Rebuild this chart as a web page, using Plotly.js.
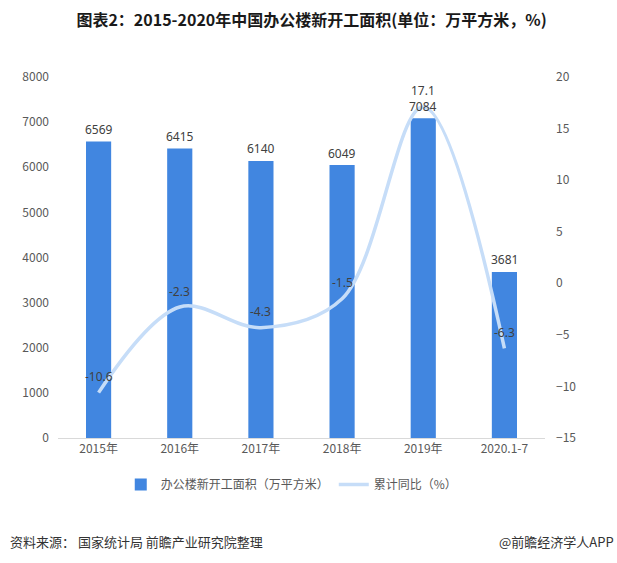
<!DOCTYPE html>
<html>
<head>
<meta charset="utf-8">
<script src="https://cdn.plot.ly/plotly-3.0.1.min.js"></script>
<style>
html,body{margin:0;padding:0;background:#fff;}
#chart{width:617px;height:563px;}
</style>
</head>
<body>
<div id="chart"></div>
<script>
const categories = ["2015年", "2016年", "2017年", "2018年", "2019年", "2020.1-7"];
const areaValues = [6569, 6415, 6140, 6049, 7084, 3681];
const yoyValues = [-10.6, -2.3, -4.3, -1.5, 17.1, -6.3];
const leftTicks = [0, 1000, 2000, 3000, 4000, 5000, 6000, 7000, 8000];
const rightTicks = [-15, -10, -5, 0, 5, 10, 15, 20];

const FONT = '"Noto Sans CJK SC", "Microsoft YaHei", sans-serif';
const NUMFONT = '"Noto Sans", "Open Sans", sans-serif';

const barTrace = {
  type: 'bar',
  name: '办公楼新开工面积（万平方米）',
  x: categories,
  y: areaValues,
  marker: {color: '#4186e0'},
  width: 0.31,
  yaxis: 'y'
};

const lineTrace = {
  type: 'scatter',
  mode: 'lines',
  name: '累计同比（%）',
  x: categories,
  y: yoyValues,
  cliponaxis: false,
  line: {color: '#c6ddf8', width: 3.5, shape: 'spline', smoothing: 1},
  yaxis: 'y2'
};

const barLabels = categories.map((c, i) => ({
  text: String(areaValues[i]),
  xref: 'x', yref: 'y',
  x: c, y: areaValues[i],
  yshift: 12,
  showarrow: false,
  xanchor: 'center', yanchor: 'middle',
  font: {family: NUMFONT, size: 12, color: '#404040'}
}));

const lineLabels = categories.map((c, i) => ({
  text: String(yoyValues[i]),
  xref: 'x', yref: 'y2',
  x: c, y: yoyValues[i],
  yshift: 16,
  showarrow: false,
  xanchor: 'center', yanchor: 'middle',
  font: {family: NUMFONT, size: 12, color: '#404040'}
}));

const layout = {
  width: 617,
  height: 563,
  margin: {l: 58, r: 72, t: 77, b: 125},
  paper_bgcolor: '#ffffff',
  plot_bgcolor: '#ffffff',
  font: {family: FONT, size: 12, color: '#595959'},
  title: {
    text: '<b>图表2：2015-2020年中国办公楼新开工面积(单位：万平方米，%)</b>',
    font: {family: FONT, size: 16, color: '#1a1a1a'},
    x: 0.505, xref: 'container', xanchor: 'center',
    y: 1 - 20/563, yref: 'container', yanchor: 'middle'
  },
  xaxis: {
    type: 'category',
    showgrid: false,
    showline: true,
    linecolor: '#d9d9d9',
    linewidth: 1,
    ticks: '',
    tickfont: {family: FONT, size: 12, color: '#595959'},
    zeroline: false
  },
  yaxis: {
    range: [0, 8000],
    tickvals: leftTicks,
    showgrid: false,
    zeroline: false,
    showline: false,
    ticks: '',
    ticklabelstandoff: 8,
    tickfont: {family: FONT, size: 12, color: '#595959'}
  },
  yaxis2: {
    overlaying: 'y',
    side: 'right',
    range: [-15, 20],
    tickvals: rightTicks,
    showgrid: false,
    zeroline: false,
    showline: false,
    ticks: '',
    ticklabelstandoff: 10,
    tickfont: {family: FONT, size: 12, color: '#595959'}
  },
  showlegend: true,
  legend: {
    orientation: 'h',
    x: 0.48, xanchor: 'center',
    y: (438 - 470) / 361, yanchor: 'top',
    font: {family: FONT, size: 12, color: '#595959'},
    itemwidth: 30,
    traceorder: 'normal'
  },
  annotations: barLabels.concat(lineLabels).concat([
    {
      text: '资料来源： 国家统计局 前瞻产业研究院整理',
      xref: 'paper', yref: 'paper',
      x: (8 - 58) / 487, y: (438 - 541) / 361,
      xanchor: 'left', yanchor: 'middle',
      showarrow: false,
      font: {family: FONT, size: 13, color: '#333333'}
    },
    {
      text: '@前瞻经济学人APP',
      xref: 'paper', yref: 'paper',
      x: (616 - 58) / 487, y: (438 - 541) / 361,
      xanchor: 'right', yanchor: 'middle',
      showarrow: false,
      font: {family: FONT, size: 13, color: '#333333'}
    }
  ])
};

Plotly.newPlot('chart', [barTrace, lineTrace], layout, {displayModeBar: false, staticPlot: true});
</script>
</body>
</html>
